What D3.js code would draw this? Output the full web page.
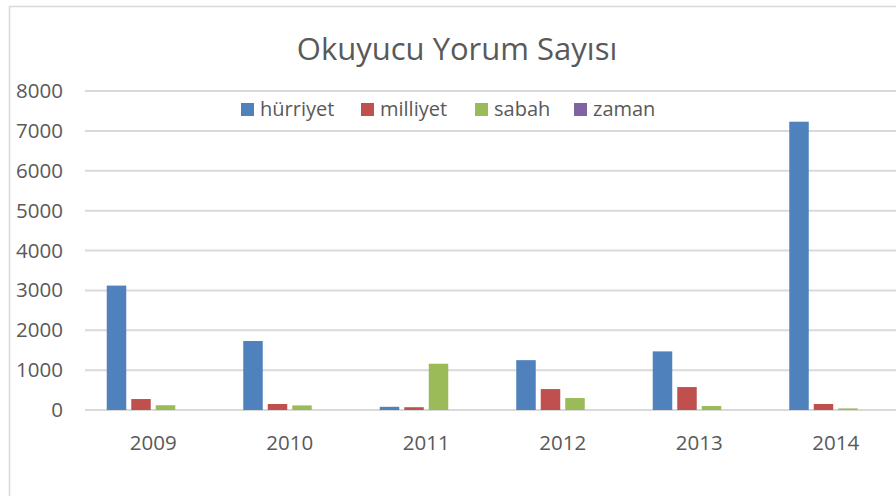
<!DOCTYPE html>
<html>
<head>
<meta charset="utf-8">
<script src="https://cdn.jsdelivr.net/npm/d3@7"></script>
<style>
  html, body { margin: 0; padding: 0; background: #fff; }
  text { font-family: "Open Sans", sans-serif; fill: #595959; }
</style>
</head>
<body>
<div id="chart"></div>
<script>
// Data
const years = ["2009", "2010", "2011", "2012", "2013", "2014"];
const series = ["hürriyet", "milliyet", "sabah", "zaman"];
const hurriyet = [3120, 1730, 80, 1250, 1470, 7230];
const milliyet = [275, 150, 70, 525, 575, 150];
const sabah = [120, 115, 1160, 300, 100, 40];
const zaman = [0, 0, 0, 0, 0, 0];
const yTicks = [0, 1000, 2000, 3000, 4000, 5000, 6000, 7000, 8000];
const colors = ["#4F81BD", "#C0504D", "#9BBB59", "#8064A2"];

const values = [hurriyet, milliyet, sabah, zaman];

const width = 896;
const height = 496;

const svg = d3.select("#chart")
  .append("svg")
  .attr("width", width)
  .attr("height", height);

// Chart frame (runs off the right and bottom edge like the screenshot)
svg.append("rect")
  .attr("x", 9.5)
  .attr("y", 6.5)
  .attr("width", width + 20)
  .attr("height", height + 20)
  .attr("fill", "#fff")
  .attr("stroke", "#D9D9D9")
  .attr("stroke-width", 1.5);

// Scales
const x0 = d3.scaleBand()
  .domain(years)
  .range([85, 904]);

const x1 = d3.scaleBand()
  .domain(series)
  .range([-46.5, 46.5])
  .paddingInner(0.204);

const y = d3.scaleLinear()
  .domain([0, 8000])
  .range([410, 91]);

// Gridlines
svg.append("g")
  .selectAll("line")
  .data(yTicks)
  .join("line")
  .attr("x1", 85)
  .attr("x2", width)
  .attr("y1", (d) => y(d))
  .attr("y2", (d) => y(d))
  .attr("stroke", "#D9D9D9")
  .attr("stroke-width", 2);

// Y axis labels
const yAxis = svg.append("g")
  .attr("transform", "translate(63,0)")
  .call(d3.axisLeft(y).tickValues(yTicks).tickFormat(d3.format("d")).tickSize(0).tickPadding(0));
yAxis.select(".domain").remove();
yAxis.selectAll("text")
  .attr("font-size", 20.5)
  .attr("font-family", "Open Sans")
  .attr("fill", "#595959");

// X axis labels
const xAxis = svg.append("g")
  .attr("transform", "translate(0,410)")
  .call(d3.axisBottom(x0).tickSize(0).tickPadding(0));
xAxis.select(".domain").remove();
xAxis.selectAll("text")
  .attr("y", 40)
  .attr("dy", 0)
  .attr("font-size", 20.5)
  .attr("font-family", "Open Sans")
  .attr("fill", "#595959");

// Bars
const groups = svg.append("g")
  .selectAll("g")
  .data(years)
  .join("g")
  .attr("transform", (d) => `translate(${x0(d) + x0.bandwidth() / 2},0)`);

groups.selectAll("rect")
  .data((d, i) => series.map((s, j) => ({ s, v: values[j][i], c: colors[j] })))
  .join("rect")
  .attr("x", (d) => x1(d.s))
  .attr("width", x1.bandwidth())
  .attr("y", (d) => y(d.v))
  .attr("height", (d) => y(0) - y(d.v))
  .attr("fill", (d) => d.c);

// Title
svg.append("text")
  .attr("x", 457)
  .attr("y", 60)
  .attr("text-anchor", "middle")
  .attr("font-size", 31)
  .text("Okuyucu Yorum Sayısı");

// Legend
const legendX = [241, 361, 475, 574];
const legend = svg.append("g")
  .selectAll("g")
  .data(series)
  .join("g")
  .attr("transform", (d, i) => `translate(${legendX[i]},103)`);

legend.append("rect")
  .attr("width", 13)
  .attr("height", 13)
  .attr("fill", (d, i) => colors[i]);

legend.append("text")
  .attr("x", 19)
  .attr("y", 13)
  .attr("font-size", 20)
  .text((d) => d);
</script>
</body>
</html>
